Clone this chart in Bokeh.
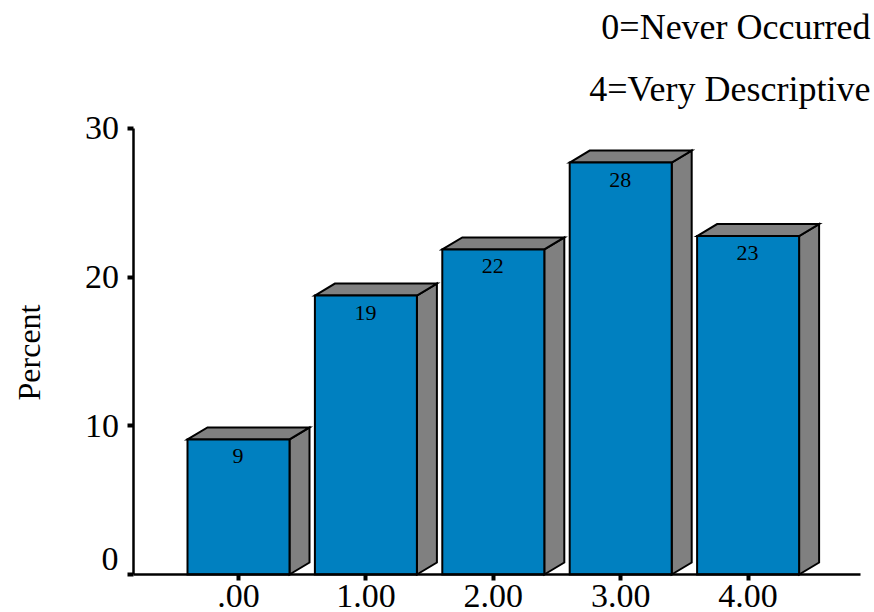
from bokeh.plotting import figure
from bokeh.models import Label, FixedTicker, Range1d, LinearAxis
from bokeh.embed import file_html
from bokeh.resources import INLINE
from math import pi

categories = [".00", "1.00", "2.00", "3.00", "4.00"]
values = [9.08, 18.76, 21.86, 27.7, 22.76]
bar_labels = ["9", "19", "22", "28", "23"]
y_ticks = [0, 10, 20, 30]
note_lines = ["0=Never Occurred", "4=Very Descriptive"]
y_title = "Percent"

FONT = "Liberation Serif"
W, H = 874, 612
AXIS_X, AXIS_Y, AXIS_END = 132.5, 574, 860
PX_X = 127.4           # pixels per category
PX_Y = 14.87           # pixels per percent
x_at = lambda px: (px - 238) / PX_X
y_at = lambda py: (AXIS_Y - py) / PX_Y

p = figure(width=W, height=H, output_backend="svg", toolbar_location=None,
           x_range=Range1d(x_at(0), x_at(W)), y_range=Range1d(y_at(H), y_at(0)),
           x_axis_location=None, y_axis_location=None,
           min_border_left=0, min_border_right=0, min_border_top=0, min_border_bottom=0)
p.grid.visible = False
p.outline_line_color = None
p.background_fill_color = "white"
p.border_fill_color = "white"

xs = list(range(len(values)))
half = 51 / PX_X
dx, dy = 20 / PX_X, 12 / PX_Y

side_x, side_y, top_x, top_y = [], [], [], []
for x, v in zip(xs, values):
    l, r = x - half, x + half
    side_x.append([r, r + dx, r + dx, r])
    side_y.append([0, dy, v + dy, v])
    top_x.append([l, l + dx, r + dx, r])
    top_y.append([v, v + dy, v + dy, v])

style = dict(line_color="black", line_width=2, line_join="miter")
p.patches(side_x, side_y, fill_color="#808080", **style)
p.patches(top_x, top_y, fill_color="#808080", **style)
p.vbar(x=xs, top=values, bottom=0, width=2 * half, fill_color="#0080C0", **style)

p.text(x=[x - 0.5 / PX_X for x in xs], y=[v - 17 / PX_Y for v in values], text=bar_labels,
       text_align="center", text_baseline="middle", text_font_size="22px",
       text_color="black", text_font={"value": FONT})

xaxis = LinearAxis(fixed_location=0, ticker=FixedTicker(ticks=xs),
                   major_label_overrides={i: c for i, c in enumerate(categories)},
                   major_label_standoff=4, bounds=(x_at(AXIS_X), x_at(AXIS_END)))
yaxis = LinearAxis(fixed_location=x_at(AXIS_X), ticker=FixedTicker(ticks=y_ticks),
                   major_label_overrides={0: ""},
                   major_label_standoff=8, bounds=(0, 30))
for ax in (xaxis, yaxis):
    ax.axis_line_color = "black"
    ax.axis_line_width = 2.5
    ax.major_tick_line_color = "black"
    ax.major_tick_line_width = 4
    ax.major_tick_in = 0
    ax.major_tick_out = 6
    ax.minor_tick_line_color = None
    ax.major_label_text_font = FONT
    ax.major_label_text_font_size = "34px"
    ax.major_label_text_color = "black"
p.add_layout(xaxis, "below")
p.add_layout(yaxis, "left")

def canvas_label(text, sx, sy, size, align="center", angle=0.0):
    p.add_layout(Label(x=x_at(sx), y=y_at(sy), text=text, text_align=align,
                       text_baseline="middle", angle=angle, angle_units="rad",
                       text_font=FONT, text_font_size=size, text_color="black"))

canvas_label("0", 118, 558, "34px", "right")
canvas_label(y_title, 28, 352, "32px", "center", pi / 2)
for line, py in zip(note_lines, [26, 88]):
    canvas_label(line, 870, py, "36px", "right")

open("out.html", "w").write(file_html(p, INLINE))
